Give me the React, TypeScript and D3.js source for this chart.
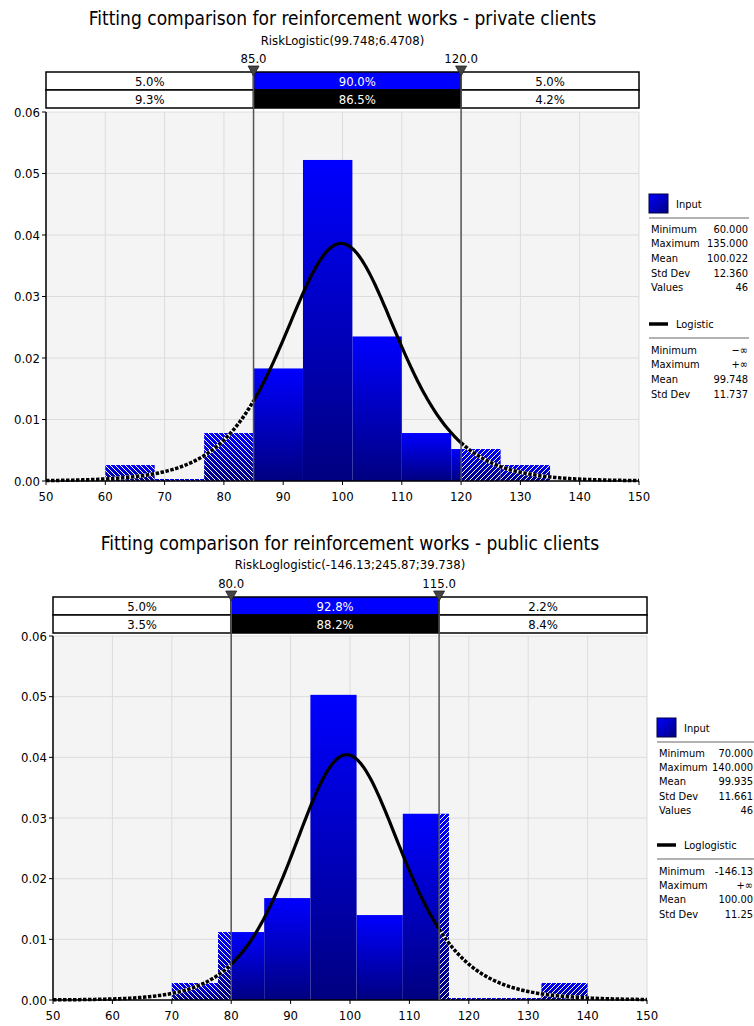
import React from 'react';
import * as d3 from 'd3';

// ---------- Data: private clients ----------
const privTitle = 'Fitting comparison for reinforcement works - private clients';
const privSubtitle = 'RiskLogistic(99.748;6.4708)';
const privBinEdges = [60, 68.333, 76.667, 85, 93.333, 101.667, 110, 118.333, 126.667, 135];
const privDensities = [0.0026, 0, 0.0078, 0.0183, 0.0522, 0.0235, 0.0078, 0.0052, 0.0026];
const privMarkers = [85, 120];
const privMarkerLabels = ['85.0', '120.0'];
const privRow1 = ['5.0%', '90.0%', '5.0%'];
const privRow2 = ['9.3%', '86.5%', '4.2%'];
const privInputStats = [['Minimum', '60.000'], ['Maximum', '135.000'], ['Mean', '100.022'], ['Std Dev', '12.360'], ['Values', '46']];
const privFitName = 'Logistic';
const privFitStats = [['Minimum', '\u2212\u221E'], ['Maximum', '+\u221E'], ['Mean', '99.748'], ['Std Dev', '11.737']];
const privLogisticMu = 99.748;
const privLogisticScale = 6.4708;

// ---------- Data: public clients ----------
const pubTitle = 'Fitting comparison for reinforcement works - public clients';
const pubSubtitle = 'RiskLoglogistic(-146.13;245.87;39.738)';
const pubBinEdges = [70, 77.778, 85.556, 93.333, 101.111, 108.889, 116.667, 124.444, 132.222, 140];
const pubDensities = [0.0028, 0.0112, 0.0168, 0.0503, 0.014, 0.0307, 0, 0, 0.0028];
const pubMarkers = [80, 115];
const pubMarkerLabels = ['80.0', '115.0'];
const pubRow1 = ['5.0%', '92.8%', '2.2%'];
const pubRow2 = ['3.5%', '88.2%', '8.4%'];
const pubInputStats = [['Minimum', '70.000'], ['Maximum', '140.000'], ['Mean', '99.935'], ['Std Dev', '11.661'], ['Values', '46']];
const pubFitName = 'Loglogistic';
const pubFitStats = [['Minimum', '-146.13'], ['Maximum', '+\u221E'], ['Mean', '100.00'], ['Std Dev', '11.25']];
const pubLLGamma = -146.13;
const pubLLBeta = 245.87;
const pubLLAlpha = 39.738;

// ---------- Axes ----------
const xTicks = [50, 60, 70, 80, 90, 100, 110, 120, 130, 140, 150];
const yTicks = [0, 0.01, 0.02, 0.03, 0.04, 0.05, 0.06];
const yTickLabels = ['0.00', '0.01', '0.02', '0.03', '0.04', '0.05', '0.06'];

const logisticPdf = (x: number) => {
  const z = (x - privLogisticMu) / privLogisticScale;
  const e = Math.exp(-z);
  return e / (privLogisticScale * (1 + e) * (1 + e));
};
const loglogisticPdf = (x: number) => {
  const t = (x - pubLLGamma) / pubLLBeta;
  if (t <= 0) return 0;
  const ta = Math.pow(t, pubLLAlpha);
  return (pubLLAlpha / pubLLBeta) * Math.pow(t, pubLLAlpha - 1) / ((1 + ta) * (1 + ta));
};

const FONT = '"DejaVu Sans Condensed", "DejaVu Sans", sans-serif';

type Layout = {
  id: string;
  plotL: number; plotR: number; plotT: number; plotB: number;
  titleY: number; subY: number; markerLabelY: number; boxTop: number;
  legX: number; legY: number; legValX: number; rowStep: number; fitOff: number;
};

function Chart(props: {
  layout: Layout; title: string; subtitle: string; edges: number[]; dens: number[];
  markers: number[]; markerLabels: string[]; row1: string[]; row2: string[];
  inputStats: string[][]; fitName: string; fitStats: string[][]; pdf: (x: number) => number;
}) {
  const L = props.layout;
  const x = d3.scaleLinear().domain([50, 150]).range([L.plotL, L.plotR]);
  const y = d3.scaleLinear().domain([0, 0.06]).range([L.plotB, L.plotT]);
  const [lo, hi] = props.markers;
  const cx = (L.plotL + L.plotR) / 2;
  const rowH = 18;

  const pts: [number, number][] = [];
  for (let v = 50; v <= 150.0001; v += 0.25) pts.push([v, props.pdf(v)]);
  const left = pts.filter(p => p[0] <= lo + 0.0001);
  const mid = pts.filter(p => p[0] >= lo - 0.0001 && p[0] <= hi + 0.0001);
  const right = pts.filter(p => p[0] >= hi - 0.0001);
  const line = d3.line<[number, number]>().x(p => x(p[0])).y(p => y(p[1]));

  const barParts: { a: number; b: number; d: number; kind: string }[] = [];
  for (let i = 0; i < props.dens.length; i++) {
    const a = props.edges[i], b = props.edges[i + 1], d = props.dens[i];
    const segs: [number, number, string][] = [
      [a, Math.min(b, lo), 'L'],
      [Math.max(a, lo), Math.min(b, hi), 'M'],
      [Math.max(a, hi), b, 'R'],
    ];
    segs.forEach(([s, e, k]) => { if (e > s + 1e-9) barParts.push({ a: s, b: e, d, kind: k }); });
  }

  const rowStep = L.rowStep;
  const fo = L.fitOff;

  return (
    <g fontFamily={FONT}>
      <defs>
        <linearGradient id={`g-${L.id}`} x1="0" y1="0" x2="0" y2="1">
          <stop offset="0" stopColor="#0000ff" />
          <stop offset="1" stopColor="#000080" />
        </linearGradient>
        <pattern id={`hl-${L.id}`} patternUnits="userSpaceOnUse" width="5" height="5">
          <path d="M0,0 L5,5 M-1,4 L1,6 M4,-1 L6,1" stroke="#ffffff" strokeWidth="1" />
        </pattern>
        <pattern id={`hr-${L.id}`} patternUnits="userSpaceOnUse" width="5" height="5">
          <path d="M0,5 L5,0 M-1,1 L1,-1 M4,6 L6,4" stroke="#ffffff" strokeWidth="1" />
        </pattern>
        <linearGradient id={`sw-${L.id}`} x1="0" y1="0" x2="1" y2="1">
          <stop offset="0" stopColor="#0000ff" />
          <stop offset="1" stopColor="#000080" />
        </linearGradient>
        <clipPath id={`clip-${L.id}`}>
          <rect x={L.plotL} y={L.plotT - 2} width={L.plotR - L.plotL} height={L.plotB - L.plotT + 4} />
        </clipPath>
      </defs>

      {/* titles */}
      <text x={cx} y={L.titleY} textAnchor="middle" fontSize={19} dominantBaseline="central">{props.title}</text>
      <text x={cx} y={L.subY} textAnchor="middle" fontSize={13} dominantBaseline="central">{props.subtitle}</text>

      {/* plot background and grid */}
      <rect x={L.plotL} y={L.plotT} width={L.plotR - L.plotL} height={L.plotB - L.plotT} fill="#f4f4f4" />
      {xTicks.map(t => (
        <line key={`gx${t}`} x1={x(t)} x2={x(t)} y1={L.plotT} y2={L.plotB} stroke="#dcdcdc" strokeWidth={1} />
      ))}
      {yTicks.map(t => (
        <line key={`gy${t}`} x1={L.plotL} x2={L.plotR} y1={y(t)} y2={y(t)} stroke="#dcdcdc" strokeWidth={1} />
      ))}

      {/* bars */}
      {barParts.map((p, i) => {
        const top = p.d > 0 ? y(p.d) : L.plotB - 2;
        const h = L.plotB - top;
        return (
          <g key={`b${i}`}>
            <rect x={x(p.a)} y={top} width={x(p.b) - x(p.a)} height={h} fill={`url(#g-${L.id})`} />
            {p.kind !== 'M' && (
              <rect x={x(p.a)} y={top} width={x(p.b) - x(p.a)} height={h}
                fill={`url(#${p.kind === 'L' ? 'hl' : 'hr'}-${L.id})`} />
            )}
          </g>
        );
      })}

      {/* fitted curve */}
      <g clipPath={`url(#clip-${L.id})`}>
        <path d={line(left) || ''} fill="none" stroke="#ffffff" strokeWidth={3.5} />
        <path d={line(left) || ''} fill="none" stroke="#000" strokeWidth={3.5} strokeDasharray="3.5 1.5" />
        <path d={line(right) || ''} fill="none" stroke="#ffffff" strokeWidth={3.5} />
        <path d={line(right) || ''} fill="none" stroke="#000" strokeWidth={3.5} strokeDasharray="3.5 1.5" />
        <path d={line(mid) || ''} fill="none" stroke="#000" strokeWidth={3.2} strokeLinejoin="round" />
      </g>

      {/* axes */}
      <line x1={L.plotL} x2={L.plotL} y1={L.plotT} y2={L.plotB} stroke="#000" strokeWidth={1.5} />
      <line x1={L.plotL} x2={L.plotR} y1={L.plotB} y2={L.plotB} stroke="#000" strokeWidth={1.5} />
      {yTicks.map((t, i) => (
        <g key={`yt${t}`}>
          <line x1={L.plotL - 4} x2={L.plotL} y1={y(t)} y2={y(t)} stroke="#000" strokeWidth={1} />
          <text x={L.plotL - 6} y={y(t)} textAnchor="end" dominantBaseline="central" fontSize={13}>{yTickLabels[i]}</text>
        </g>
      ))}
      {xTicks.map(t => (
        <g key={`xt${t}`}>
          <line x1={x(t)} x2={x(t)} y1={L.plotB} y2={L.plotB + 4} stroke="#000" strokeWidth={1} />
          <text x={x(t)} y={L.plotB + 15} textAnchor="middle" dominantBaseline="central" fontSize={13}>{t}</text>
        </g>
      ))}

      {/* delimiter boxes */}
      {[0, 1].map(r => {
        const yy = L.boxTop + r * rowH;
        const segs: [number, number][] = [[L.plotL, x(lo)], [x(lo), x(hi)], [x(hi), L.plotR]];
        const labels = r === 0 ? props.row1 : props.row2;
        return (
          <g key={`row${r}`}>
            {segs.map((s, j) => (
              <g key={`s${j}`}>
                <rect x={s[0]} y={yy} width={s[1] - s[0]} height={rowH}
                  fill={j === 1 ? (r === 0 ? '#0000ff' : '#000000') : '#ffffff'} stroke="#000" strokeWidth={1.5} />
                <text x={(s[0] + s[1]) / 2} y={yy + rowH / 2 + 0.5} textAnchor="middle" dominantBaseline="central"
                  fontSize={13} fill={j === 1 ? '#ffffff' : '#000'}>{labels[j]}</text>
              </g>
            ))}
          </g>
        );
      })}

      {/* markers */}
      {props.markers.map((m, i) => (
        <g key={`m${i}`}>
          <line x1={x(m)} x2={x(m)} y1={L.boxTop} y2={L.plotB} stroke="#555" strokeWidth={1.5} />
          <path d={`M${x(m) - 5.5},${L.boxTop - 6} L${x(m) + 5.5},${L.boxTop - 6} L${x(m)},${L.boxTop + 4} Z`}
            fill="#444" stroke="#222" strokeWidth={0.8} />
          <text x={x(m)} y={L.markerLabelY} textAnchor="middle" dominantBaseline="central" fontSize={13}>{props.markerLabels[i]}</text>
        </g>
      ))}

      {/* legend */}
      <g fontSize={11}>
        <rect x={L.legX} y={L.legY} width={19} height={19} fill={`url(#sw-${L.id})`} stroke="#000040" strokeWidth={1} />
        <text x={L.legX + 27} y={L.legY + 10} dominantBaseline="central">Input</text>
        <line x1={L.legX} x2={L.legX + 100} y1={L.legY + 24} y2={L.legY + 24} stroke="#999" strokeWidth={1.5} />
        {props.inputStats.map((s, i) => (
          <g key={`is${i}`}>
            <text x={L.legX + 2} y={L.legY + 35 + i * rowStep} dominantBaseline="central">{s[0]}</text>
            <text x={L.legValX} y={L.legY + 35 + i * rowStep} textAnchor="end" dominantBaseline="central">{s[1]}</text>
          </g>
        ))}
        <line x1={L.legX} x2={L.legX + 19} y1={L.legY + fo} y2={L.legY + fo} stroke="#000" strokeWidth={3.5} />
        <text x={L.legX + 27} y={L.legY + fo} dominantBaseline="central">{props.fitName}</text>
        <line x1={L.legX} x2={L.legX + 100} y1={L.legY + fo + 14} y2={L.legY + fo + 14} stroke="#999" strokeWidth={1.5} />
        {props.fitStats.map((s, i) => (
          <g key={`fs${i}`}>
            <text x={L.legX + 2} y={L.legY + fo + 26 + i * rowStep} dominantBaseline="central">{s[0]}</text>
            <text x={L.legValX} y={L.legY + fo + 26 + i * rowStep} textAnchor="end" dominantBaseline="central">{s[1]}</text>
          </g>
        ))}
      </g>
    </g>
  );
}

const layoutPriv: Layout = {
  id: 'priv', plotL: 46, plotR: 639, plotT: 112, plotB: 481,
  titleY: 18, subY: 40, markerLabelY: 58, boxTop: 72,
  legX: 649, legY: 194, legValX: 748, rowStep: 14.7, fitOff: 130,
};
const layoutPub: Layout = {
  id: 'pub', plotL: 53, plotR: 647, plotT: 636, plotB: 1000,
  titleY: 543, subY: 564, markerLabelY: 583, boxTop: 597,
  legX: 657, legY: 718, legValX: 753, rowStep: 14.4, fitOff: 127,
};

export default function App() {
  return (
    <svg width={754} height={1026} style={{ position: 'absolute', left: 0, top: 0, background: '#fff' }}>
      <rect x={0} y={0} width={754} height={1026} fill="#fff" />
      <Chart layout={layoutPriv} title={privTitle} subtitle={privSubtitle} edges={privBinEdges} dens={privDensities}
        markers={privMarkers} markerLabels={privMarkerLabels} row1={privRow1} row2={privRow2}
        inputStats={privInputStats} fitName={privFitName} fitStats={privFitStats} pdf={logisticPdf} />
      <Chart layout={layoutPub} title={pubTitle} subtitle={pubSubtitle} edges={pubBinEdges} dens={pubDensities}
        markers={pubMarkers} markerLabels={pubMarkerLabels} row1={pubRow1} row2={pubRow2}
        inputStats={pubInputStats} fitName={pubFitName} fitStats={pubFitStats} pdf={loglogisticPdf} />
    </svg>
  );
}
